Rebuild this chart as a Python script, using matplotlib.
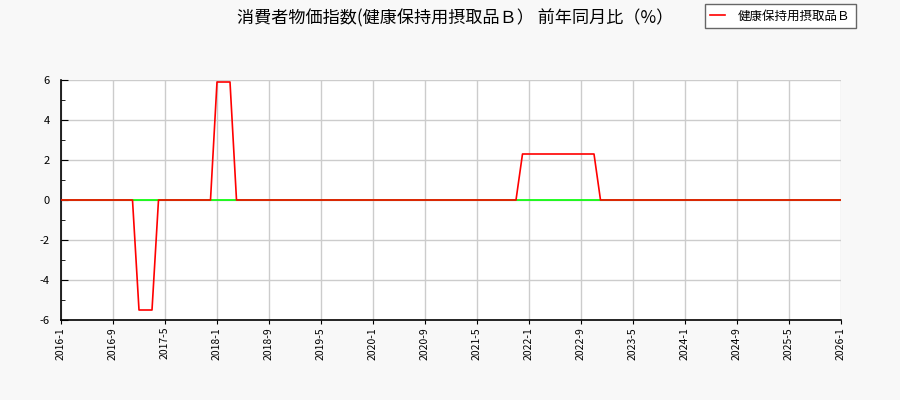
import matplotlib
matplotlib.use("Agg")
import matplotlib.pyplot as plt
from matplotlib.ticker import MultipleLocator

plt.rcParams['font.family'] = ['Noto Sans CJK JP', 'DejaVu Sans']
plt.rcParams['axes.unicode_minus'] = False

title = "消費者物価指数(健康保持用摂取品Ｂ） 前年同月比（%）"
series_name = "健康保持用摂取品Ｂ"

# monthly yoy values, 2016-1 .. 2026-1
yoy = [
    0, 0, 0, 0, 0, 0, 0, 0, 0, 0, 0, 0,              # 2016
    -5.5, -5.5, -5.5, 0, 0, 0, 0, 0, 0, 0, 0, 0,     # 2017
    5.9, 5.9, 5.9, 0, 0, 0, 0, 0, 0, 0, 0, 0,        # 2018
    0, 0, 0, 0, 0, 0, 0, 0, 0, 0, 0, 0,              # 2019
    0, 0, 0, 0, 0, 0, 0, 0, 0, 0, 0, 0,              # 2020
    0, 0, 0, 0, 0, 0, 0, 0, 0, 0, 0, 2.3,            # 2021
    2.3, 2.3, 2.3, 2.3, 2.3, 2.3, 2.3, 2.3, 2.3, 2.3, 2.3, 0,  # 2022
    0, 0, 0, 0, 0, 0, 0, 0, 0, 0, 0, 0,              # 2023
    0, 0, 0, 0, 0, 0, 0, 0, 0, 0, 0, 0,              # 2024
    0, 0, 0, 0, 0, 0, 0, 0, 0, 0, 0, 0,              # 2025
    0,                                               # 2026
]
baseline = [0] * len(yoy)

tick_labels = ["2016-1", "2016-9", "2017-5", "2018-1", "2018-9", "2019-5",
               "2020-1", "2020-9", "2021-5", "2022-1", "2022-9", "2023-5",
               "2024-1", "2024-9", "2025-5", "2026-1"]

x = list(range(len(yoy)))

fig = plt.figure(figsize=(9, 4), dpi=100, facecolor="#f8f8f8")
ax = fig.add_axes([61 / 900, 0.2, 780 / 900, 0.6])
ax.set_facecolor("white")

ax.plot(x, baseline, color="#00ff00", lw=1.2, zorder=2)
ax.plot(x, yoy, color="red", lw=1.2, label=series_name, zorder=3)

ax.set_xlim(0, 120)
ax.set_ylim(-6, 6)
ax.set_xticks(range(0, 121, 8))
ax.set_xticklabels(tick_labels, rotation=90, fontsize=7.5)
ax.yaxis.set_major_locator(MultipleLocator(2))
ax.yaxis.set_minor_locator(MultipleLocator(1))
ax.tick_params(axis="y", direction="in", length=5, labelsize=8, pad=8)
ax.tick_params(axis="y", which="minor", direction="in", length=3)
ax.tick_params(axis="x", direction="out", length=3, pad=2)
ax.grid(True, color="#cccccc", lw=1, zorder=0)
ax.set_axisbelow(True)
for s in ["top", "right"]:
    ax.spines[s].set_visible(False)
for s in ["left", "bottom"]:
    ax.spines[s].set_linewidth(1.2)

fig.text(455 / 900, 1 - 18 / 400, title, ha="center", va="center", fontsize=12.3)
fig.legend(loc="upper right", bbox_to_anchor=(856 / 900, 1 - 4 / 400),
           fontsize=9, frameon=True, fancybox=False, edgecolor="#666666",
           framealpha=1, handlelength=1.2, handletextpad=1.0,
           borderpad=0.45, borderaxespad=0)

fig.savefig("out.png", dpi=100, facecolor=fig.get_facecolor())
